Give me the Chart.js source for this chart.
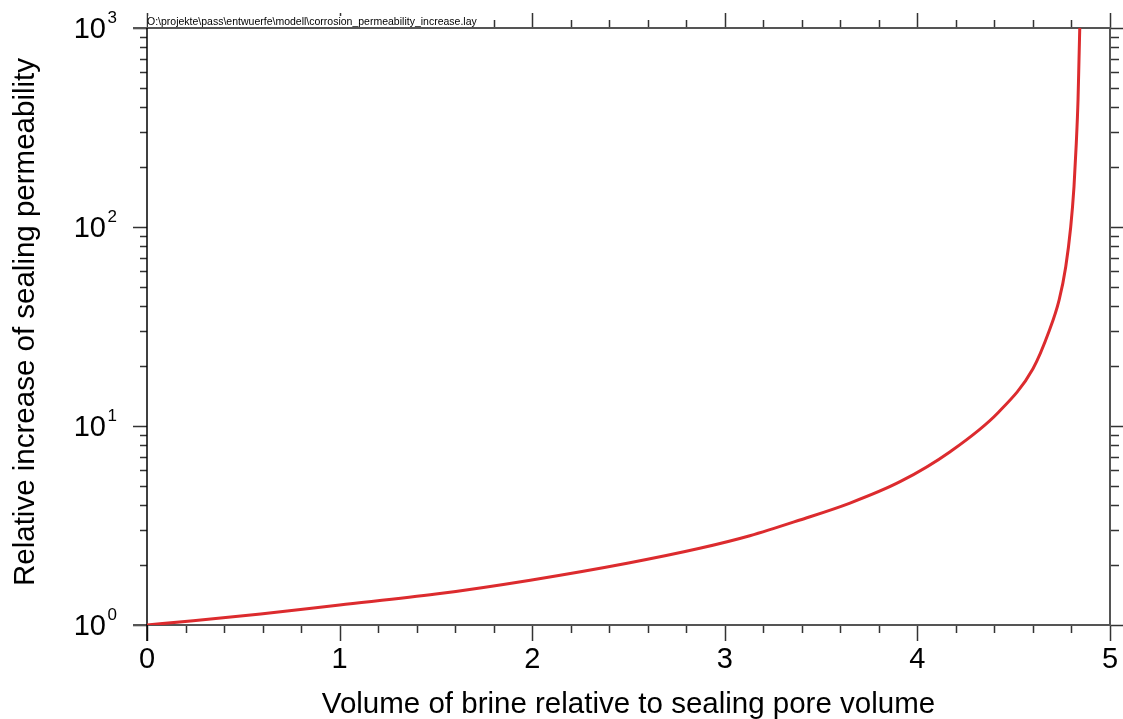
<!DOCTYPE html>
<html>
<head>
<meta charset="utf-8">
<script src="https://cdn.jsdelivr.net/npm/chart.js@4"></script>
<style>
    body { margin: 0; background: #fff; }
    #wrap { width: 1123px; height: 719px; }
</style>
</head>
<body>
<div id="wrap"><canvas id="permChart" width="1123" height="719"></canvas></div>
<script>
// values
const brineVolume = [0, 0.24, 0.59, 1.0, 1.5, 1.99, 2.5, 2.87, 3.13, 3.39, 3.65, 3.91, 4.17, 4.42, 4.6, 4.684, 4.736, 4.77, 4.796, 4.813, 4.825, 4.834, 4.839, 4.843];
const permIncrease = [1.0, 1.05, 1.136, 1.26, 1.43, 1.68, 2.05, 2.43, 2.81, 3.37, 4.1, 5.25, 7.43, 11.7, 19.4, 30, 43, 63, 100, 159, 264, 436, 690, 1000];

const xTicks = [0, 1, 2, 3, 4, 5];
const yDecades = [0, 1, 2, 3];
const xTitle = 'Volume of brine relative to sealing pore volume';
const yTitle = 'Relative increase of sealing permeability';
const fileLabel = 'O:\\projekte\\pass\\entwuerfe\\modell\\corrosion_permeability_increase.lay';

const FONT = '"Liberation Sans", Arial, sans-serif';

// axes, ticks and labels are drawn by hand from the chart scales
const frame = {
    id: 'frame',
    beforeDatasetsDraw(chart) {
        const ctx = chart.ctx;
        const a = chart.chartArea;
        const xs = chart.scales.x;
        const ys = chart.scales.y;
        ctx.save();

        // x ticks (bottom and top)
        ctx.strokeStyle = '#333';
        ctx.lineWidth = 1.5;
        for (let i = 0; i <= 25; i++) {
            const v = i * 0.2;
            const px = Math.round(xs.getPixelForValue(v)) + 0.5;
            const major = i % 5 === 0;
            ctx.beginPath();
            ctx.moveTo(px, a.bottom);
            ctx.lineTo(px, a.bottom + (major ? 16 : 8));
            ctx.moveTo(px, a.top);
            ctx.lineTo(px, a.top - (major ? 15 : 8));
            ctx.stroke();
        }

        // y ticks (left and right)
        yDecades.forEach(d => {
            for (let m = 1; m <= 9; m++) {
                if (d === 3 && m > 1) break;
                const v = m * Math.pow(10, d);
                const py = Math.round(ys.getPixelForValue(v)) + 0.5;
                const major = m === 1;
                ctx.beginPath();
                ctx.moveTo(a.left, py);
                ctx.lineTo(a.left - (major ? 14 : 7), py);
                ctx.moveTo(a.right, py);
                ctx.lineTo(a.right + (major ? 14 : 9), py);
                ctx.stroke();
            }
        });

        // box
        ctx.strokeStyle = '#555';
        ctx.lineWidth = 2;
        ctx.beginPath();
        ctx.moveTo(a.left - 14, a.bottom);
        ctx.lineTo(a.right + 1, a.bottom);
        ctx.moveTo(a.left - 14, a.top);
        ctx.lineTo(a.right + 1, a.top);
        ctx.moveTo(a.right, a.top);
        ctx.lineTo(a.right, a.bottom);
        ctx.stroke();
        ctx.strokeStyle = '#000';
        ctx.lineWidth = 1.5;
        ctx.beginPath();
        ctx.moveTo(a.left, a.top);
        ctx.lineTo(a.left, a.bottom + 16);
        ctx.stroke();

        // file label on a white box
        ctx.font = '10.5px ' + FONT;
        const w = ctx.measureText(fileLabel).width;
        ctx.fillStyle = '#fff';
        ctx.fillRect(a.left + 1, 16, w + 2, a.top - 17);
        ctx.fillStyle = '#000';
        ctx.textAlign = 'left';
        ctx.textBaseline = 'alphabetic';
        ctx.fillText(fileLabel, a.left, 25);

        // x tick labels
        ctx.font = '29px ' + FONT;
        ctx.textAlign = 'center';
        xTicks.forEach(v => {
            ctx.fillText(String(v), xs.getPixelForValue(v), 668);
        });

        // y tick labels 10^n
        yDecades.forEach(d => {
            const py = ys.getPixelForValue(Math.pow(10, d));
            ctx.font = '29px ' + FONT;
            ctx.textAlign = 'right';
            ctx.fillText('10', 106, py + 10);
            ctx.font = '17px ' + FONT;
            ctx.textAlign = 'left';
            ctx.fillText(String(d), 107.5, py - 5);
        });

        // axis titles
        ctx.font = '29.5px ' + FONT;
        ctx.textAlign = 'center';
        ctx.fillText(xTitle, (a.left + a.right) / 2, 713);
        ctx.translate(34, 322);
        ctx.rotate(-Math.PI / 2);
        ctx.fillText(yTitle, 0, 0);
        ctx.restore();
    }
};

new Chart(document.getElementById('permChart'), {
    type: 'line',
    data: {
        datasets: [{
            data: brineVolume.map((v, i) => ({ x: v, y: permIncrease[i] })),
            borderColor: '#dc2b2e',
            borderWidth: 3,
            pointRadius: 0,
            cubicInterpolationMode: 'monotone',
            fill: false
        }]
    },
    options: {
        responsive: false,
        animation: false,
        layout: {
            padding: { left: 147, right: 13, top: 28, bottom: 94 }
        },
        plugins: {
            legend: { display: false },
            tooltip: { enabled: false }
        },
        scales: {
            x: { type: 'linear', min: 0, max: 5, display: false },
            y: { type: 'logarithmic', min: 1, max: 1000, display: false }
        }
    },
    plugins: [frame]
});
</script>
</body>
</html>
